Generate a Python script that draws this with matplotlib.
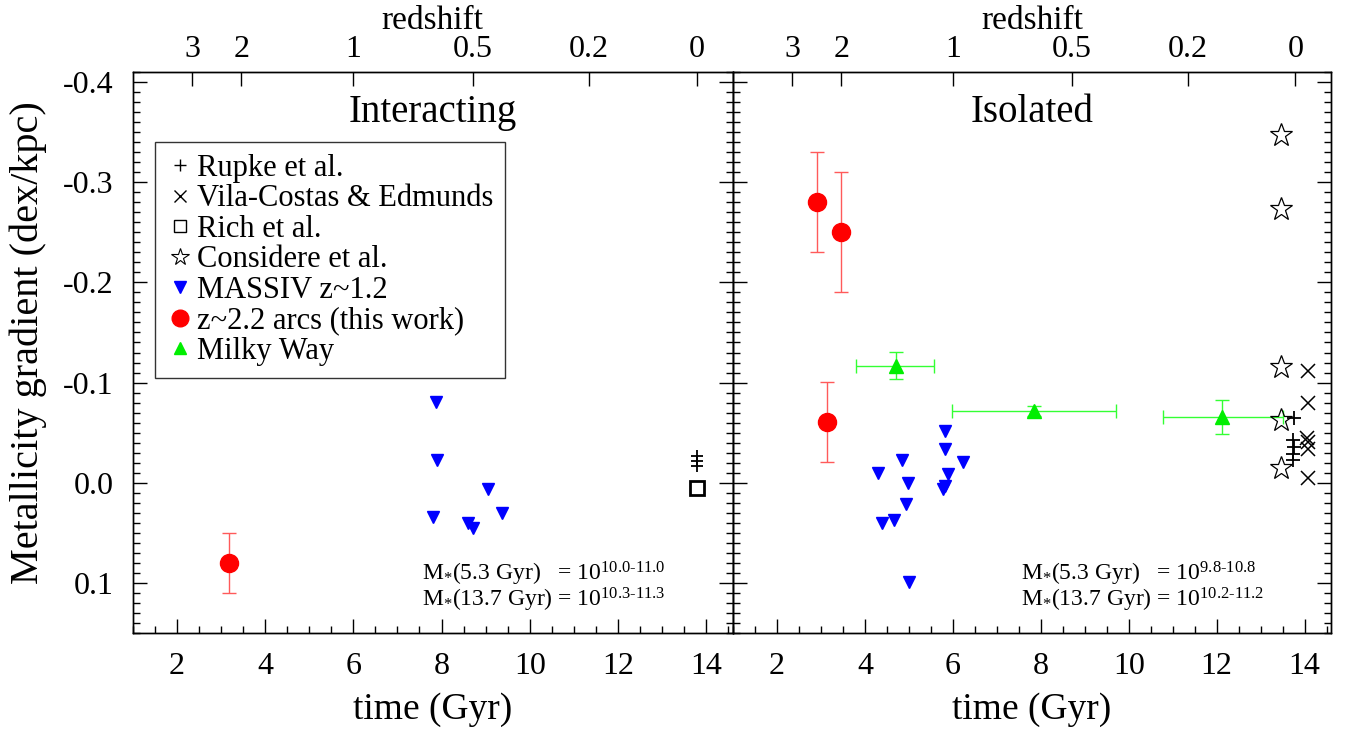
import matplotlib
matplotlib.use("Agg")
import matplotlib.pyplot as plt
from matplotlib.lines import Line2D
import numpy as np

plt.rcParams["font.family"] = ["Liberation Serif", "DejaVu Serif"]
plt.rcParams["mathtext.fontset"] = "custom"
plt.rcParams["mathtext.rm"] = "Liberation Serif"
plt.rcParams["mathtext.it"] = "Liberation Serif:italic"

# ---- data (time in Gyr, gradient in dex/kpc) ----
# redshift axis
z_labels = ["3", "2", "1", "0.5", "0.2", "0"]
z_times = [2.35, 3.46, 6.00, 8.71, 11.34, 13.79]

# Interacting panel
int_arc_t = [3.18]
int_arc_g = [0.080]
int_arc_err = [0.030]
int_massiv_t = [7.88, 7.90, 7.81, 8.60, 8.71, 9.05, 9.37]
int_massiv_g = [-0.081, -0.023, 0.034, 0.040, 0.045, 0.006, 0.030]
int_rupke_t = [13.80, 13.80, 13.80]
int_rupke_g = [-0.027, -0.022, -0.017]
int_rich_t = [13.80]
int_rich_g = [0.005]

# Isolated panel
iso_arc_t = [2.90, 3.45, 3.13]
iso_arc_g = [-0.280, -0.250, -0.061]
iso_arc_err = [0.050, 0.060, 0.040]
mw_t = [4.70, 7.85, 12.13]
mw_g = [-0.117, -0.072, -0.066]
mw_gerr = [0.013, 0.005, 0.017]
mw_t_lo = [3.79, 5.99, 10.79]
mw_t_hi = [5.56, 9.71, 13.51]
iso_massiv_t = [5.82, 5.82, 4.85, 6.22, 4.29, 5.90, 4.98, 5.82, 5.78, 4.93, 4.38, 4.67, 5.01]
iso_massiv_g = [-0.052, -0.034, -0.023, -0.021, -0.010, -0.009, 0.000, 0.003, 0.006,
                0.021, 0.040, 0.037, 0.099]
considere_t = [13.46, 13.46, 13.46, 13.46, 13.46]
considere_g = [-0.347, -0.273, -0.116, -0.063, -0.015]
vila_t = [14.07, 14.07, 14.05, 14.07, 14.07, 14.07]
vila_g = [-0.112, -0.080, -0.045, -0.041, -0.034, -0.005]
iso_rupke_t = [13.76, 13.74, 13.76, 13.74, 13.74]
iso_rupke_g = [-0.065, -0.043, -0.036, -0.029, -0.023]

mass_text_int = [r"M$_{*}$(5.3 Gyr)   = 10$^{\text{10.0-11.0}}$",
                 r"M$_{*}$(13.7 Gyr) = 10$^{\text{10.3-11.3}}$"]
mass_text_iso = [r"M$_{*}$(5.3 Gyr)   = 10$^{\text{9.8-10.8}}$",
                 r"M$_{*}$(13.7 Gyr) = 10$^{\text{10.2-11.2}}$"]

W, H = 1347, 729
fig = plt.figure(figsize=(W / 100, H / 100), dpi=100)
ax1 = fig.add_axes([132.7 / W, 1 - 633 / H, 600 / W, 561 / H])
ax2 = fig.add_axes([733 / W, 1 - 633 / H, 598 / W, 561 / H], sharey=ax1)

RED = "#ff0000"
RED_ERR = "#ff5a5a"
BLUE = "#0000ff"
GREEN = "#00ee00"
GREEN_ERR = "#33ff33"


def style_axes(ax, title, show_ylabels):
    ax.set_xlim(1, 14.6)
    ax.set_ylim(0.15, -0.41)
    ax.set_xticks(np.arange(2, 15, 2))
    ax.set_xticks(np.arange(1, 14.6, 0.5), minor=True)
    ax.set_yticks([-0.4, -0.3, -0.2, -0.1, 0.0, 0.1])
    ax.set_yticks(np.arange(-0.41, 0.151, 0.01), minor=True)
    ax.set_yticklabels(["-0.4", "-0.3", "-0.2", "-0.1", "0.0", "0.1"])
    ax.tick_params(which="both", direction="in", top=False, right=True,
                   labelsize=23, width=1)
    ax.tick_params(axis="x", which="major", length=10, pad=14)
    ax.tick_params(axis="x", which="minor", length=5)
    ax.tick_params(axis="y", which="major", length=10, pad=14)
    ax.tick_params(axis="y", which="minor", length=5)
    if not show_ylabels:
        ax.tick_params(axis="y", labelleft=False)
    ax.set_xlabel("time (Gyr)", fontsize=27, labelpad=8)
    ax.text(0.5, 0.927, title, transform=ax.transAxes, ha="center", va="center",
            fontsize=28)

    top = ax.twiny()
    top.set_xlim(ax.get_xlim())
    top.set_xticks(z_times)
    top.set_xticklabels(z_labels)
    top.tick_params(direction="in", length=10, width=1, labelsize=23, pad=6)
    top.set_xlabel("redshift", fontsize=24, labelpad=4)
    for sp in list(ax.spines.values()) + list(top.spines.values()):
        sp.set_linewidth(1)


style_axes(ax1, "Interacting", True)
style_axes(ax2, "Isolated", False)

# ---- Interacting ----
ax1.errorbar(int_arc_t, int_arc_g, yerr=int_arc_err, fmt="none", ecolor=RED_ERR,
             elinewidth=1, capsize=5, capthick=1)
ax1.plot(int_arc_t, int_arc_g, "o", color=RED, ms=13)
ax1.plot(int_massiv_t, int_massiv_g, "v", color=BLUE, ms=9)
ax1.plot(int_rupke_t, int_rupke_g, "+", color="k", ms=9, mew=1.3)
ax1.plot(int_rich_t, int_rich_g, "s", mfc="none", mec="k", ms=10, mew=2)

# ---- Isolated ----
ax2.errorbar(iso_arc_t, iso_arc_g, yerr=iso_arc_err, fmt="none", ecolor=RED_ERR,
             elinewidth=1, capsize=5, capthick=1)
ax2.plot(iso_arc_t, iso_arc_g, "o", color=RED, ms=13)
mw_xerr = [np.array(mw_t) - np.array(mw_t_lo), np.array(mw_t_hi) - np.array(mw_t)]
ax2.errorbar(mw_t, mw_g, xerr=mw_xerr, yerr=mw_gerr, fmt="none", ecolor=GREEN_ERR,
             elinewidth=1, capsize=5, capthick=1)
ax2.plot(mw_t, mw_g, "^", color=GREEN, ms=10)
ax2.plot(iso_massiv_t, iso_massiv_g, "v", color=BLUE, ms=9)
ax2.plot(considere_t, considere_g, "*", mfc="none", mec="k", ms=17, mew=0.9)
ax2.plot(vila_t, vila_g, "x", color="k", ms=10, mew=1.1)
ax2.plot(iso_rupke_t, iso_rupke_g, "+", color="k", ms=10, mew=1.3)

# mass annotations
for ax, lines in ((ax1, mass_text_int), (ax2, mass_text_iso)):
    ax.text(0.482, 0.094, lines[0], transform=ax.transAxes, fontsize=17, va="baseline")
    ax.text(0.482, 0.047, lines[1], transform=ax.transAxes, fontsize=17, va="baseline")

# legend
handles = [
    Line2D([], [], ls="none", marker="+", color="k", ms=8, mew=1),
    Line2D([], [], ls="none", marker="x", color="k", ms=8, mew=1),
    Line2D([], [], ls="none", marker="s", mfc="none", mec="k", ms=8, mew=1),
    Line2D([], [], ls="none", marker="*", mfc="none", mec="k", ms=13, mew=0.8),
    Line2D([], [], ls="none", marker="v", color=BLUE, ms=8),
    Line2D([], [], ls="none", marker="o", color=RED, ms=12),
    Line2D([], [], ls="none", marker="^", color=GREEN, ms=8),
]
labels = ["Rupke et al.", "Vila-Costas & Edmunds", "Rich et al.", "Considere et al.",
          "MASSIV z~1.2", "z~2.2 arcs (this work)", "Milky Way"]
leg = ax1.legend(handles, labels, loc="upper left", bbox_to_anchor=(0.037, 0.875),
                 borderaxespad=0, fontsize=22, frameon=True, fancybox=False,
                 edgecolor="k", labelspacing=0.05, handlelength=0.9,
                 handletextpad=0.1, borderpad=0.38)
leg.get_frame().set_linewidth(1)

fig.text(28 / W, 1 - 343 / H, "Metallicity gradient (dex/kpc)", rotation=90,
         ha="center", va="center", fontsize=29)

fig.savefig("out.png", dpi=100)
